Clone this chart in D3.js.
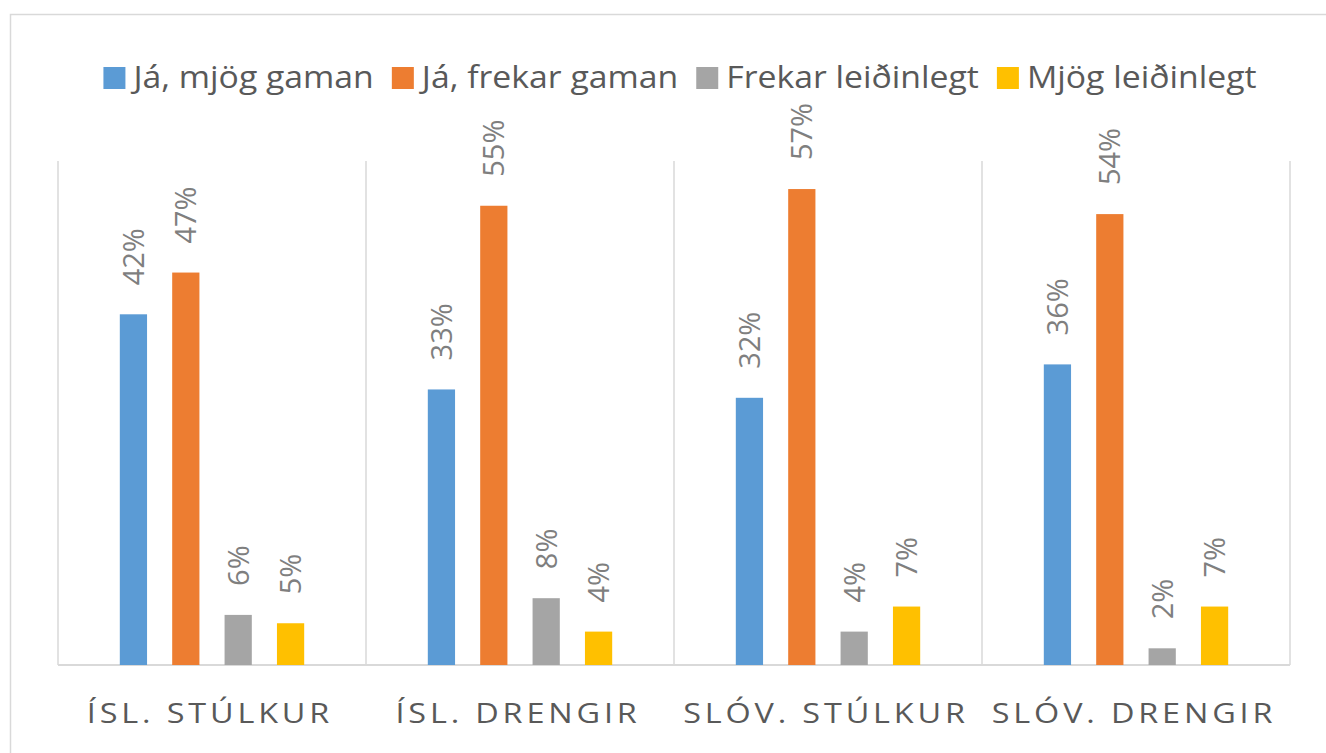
<!DOCTYPE html>
<html>
<head>
<meta charset="utf-8">
<script src="https://cdn.jsdelivr.net/npm/d3@7"></script>
<style>
  html, body { margin: 0; padding: 0; background: #fff; }
  svg { display: block; font-family: "Open Sans", "Noto Sans", sans-serif; }
</style>
</head>
<body>
<script>
const categories = ["ÍSL. STÚLKUR", "ÍSL. DRENGIR", "SLÓV. STÚLKUR", "SLÓV. DRENGIR"];
const seriesNames = ["Já, mjög gaman", "Já, frekar gaman", "Frekar leiðinlegt", "Mjög leiðinlegt"];
const mjogGaman = [0.42, 0.33, 0.32, 0.36];
const frekarGaman = [0.47, 0.55, 0.57, 0.54];
const frekarLeidinlegt = [0.06, 0.08, 0.04, 0.02];
const mjogLeidinlegt = [0.05, 0.04, 0.07, 0.07];
const seriesColors = ["#5b9bd5", "#ed7d31", "#a5a5a5", "#ffc000"];

const seriesValues = [mjogGaman, frekarGaman, frekarLeidinlegt, mjogLeidinlegt];

const width = 1326,
  height = 753,
  plot = { left: 58, right: 1290, top: 164, bottom: 665 };

const svg = d3.select("body")
  .append("svg")
  .attr("width", width)
  .attr("height", height);

// chart frame (only top and left edge visible in the crop)
svg.append("rect")
  .attr("x", 10.5)
  .attr("y", 14.5)
  .attr("width", 1340)
  .attr("height", 800)
  .attr("fill", "none")
  .attr("stroke", "#d9d9d9")
  .attr("stroke-width", 1.5);

const x0 = d3.scaleBand()
  .domain(categories)
  .range([plot.left, plot.right]);

const x1 = d3.scaleBand()
  .domain(seriesNames)
  .range([0, x0.bandwidth()])
  .paddingInner(0.48)
  .paddingOuter(1.18);

const y = d3.scaleLinear()
  .domain([0, 0.6])
  .range([plot.bottom, plot.top]);

// group separators
const edges = categories.map(c => x0(c)).concat([plot.right]);
svg.append("g")
  .selectAll("line")
  .data(edges)
  .join("line")
  .attr("x1", d => d)
  .attr("x2", d => d)
  .attr("y1", plot.top - 3)
  .attr("y2", plot.bottom)
  .attr("stroke", "#d9d9d9")
  .attr("stroke-width", 1.5);

// baseline
svg.append("line")
  .attr("x1", plot.left)
  .attr("x2", plot.right)
  .attr("y1", y(0))
  .attr("y2", y(0))
  .attr("stroke", "#d9d9d9")
  .attr("stroke-width", 2);

const rows = [];
categories.forEach((c, i) => {
  seriesNames.forEach((s, j) => {
    rows.push({ category: c, series: s, value: seriesValues[j][i], color: seriesColors[j] });
  });
});

const bars = svg.append("g")
  .selectAll("g")
  .data(rows)
  .join("g")
  .attr("transform", d => `translate(${x0(d.category) + x1(d.series)},0)`);

bars.append("rect")
  .attr("x", 0)
  .attr("y", d => y(d.value))
  .attr("width", x1.bandwidth())
  .attr("height", d => y(0) - y(d.value))
  .attr("fill", d => d.color);

bars.append("text")
  .attr("transform", d => `translate(${x1.bandwidth() / 2},${y(d.value) - 29}) rotate(-90)`)
  .attr("dy", "0.357em")
  .attr("font-size", 29)
  .attr("fill", "#7f7f7f")
  .text(d => d3.format(".0%")(d.value));

// category labels
const catScale = 1.2, catSpacing = 3.2;
svg.append("g")
  .selectAll("g")
  .data(categories)
  .join("g")
  .attr("transform", d => `translate(${x0(d) + x0.bandwidth() / 2 - 2},723) scale(${catScale},1)`)
  .append("text")
  .attr("text-anchor", "middle")
  .attr("font-size", 27)
  .attr("letter-spacing", catSpacing)
  .attr("fill", "#595959")
  .text(d => d);

// legend
const legScale = 1.09;
const legend = svg.append("g");
const items = legend.selectAll("g")
  .data(seriesNames)
  .join("g");

items.append("rect")
  .attr("y", 67)
  .attr("width", 22)
  .attr("height", 22)
  .attr("fill", (d, i) => seriesColors[i]);

items.append("g")
  .attr("transform", `translate(30,88) scale(${legScale},1)`)
  .append("text")
  .attr("font-size", 31)
  .attr("fill", "#595959")
  .text(d => d);

let cursor = 0;
items.each(function () {
  const w = d3.select(this).select("text").node().getComputedTextLength() * legScale;
  d3.select(this).attr("transform", `translate(${cursor},0)`);
  cursor += 30 + w + 18;
});
cursor -= 18;
legend.attr("transform", `translate(${680 - cursor / 2},0)`);
</script>
</body>
</html>
